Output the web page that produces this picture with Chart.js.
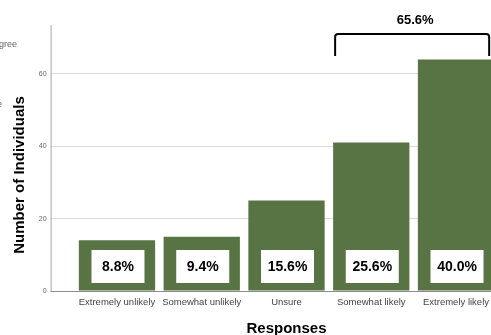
<!DOCTYPE html>
<html>
<head>
<meta charset="utf-8">
<script src="https://cdn.jsdelivr.net/npm/chart.js@4.4.1/dist/chart.umd.min.js"></script>
<style>
  html, body { margin: 0; padding: 0; background: #fff; overflow: hidden; width: 491px; height: 335px; }
  #chart { display: block; }
</style>
</head>
<body>
<canvas id="chart" width="500" height="345"></canvas>
<script>
// Donnees du graphique
const categories = ['Extremely unlikely', 'Somewhat unlikely', 'Unsure', 'Somewhat likely', 'Extremely likely'];
const counts = [14, 15, 25, 41, 64];
const percentLabels = ['8.8%', '9.4%', '15.6%', '25.6%', '40.0%'];
const bracketLabel = '65.6%';
const bracketBars = [3, 4];
const yTicks = [0, 20, 40, 60];

const BAR_COLOR = '#587444';
const FONT = "'Liberation Sans', Arial, sans-serif";

Chart.defaults.font.family = FONT;

// Axes, titre vertical et fragments de texte
const decorPlugin = {
    id: 'decor',
    beforeDatasetsDraw(chart) {
        const ctx = chart.ctx;
        const area = chart.chartArea;
        const axisX = area.left - 24;
        ctx.save();
        ctx.strokeStyle = '#a6a6a6';
        ctx.lineWidth = 1;
        ctx.beginPath();
        ctx.moveTo(axisX + 0.5, area.top);
        ctx.lineTo(axisX + 0.5, area.bottom);
        ctx.stroke();
        ctx.strokeStyle = '#8c8c8c';
        ctx.beginPath();
        ctx.moveTo(axisX, area.bottom + 0.5);
        ctx.lineTo(area.right, area.bottom + 0.5);
        ctx.stroke();

        // titre de l'axe Y
        ctx.translate(20, 175);
        ctx.rotate(-Math.PI / 2);
        ctx.fillStyle = '#000';
        ctx.font = 'bold 15px ' + FONT;
        ctx.textAlign = 'center';
        ctx.textBaseline = 'middle';
        ctx.fillText('Number of Individuals', 0, 0);
        ctx.restore();

        // restes d'un autre graphique a gauche
        ctx.save();
        ctx.fillStyle = '#666';
        ctx.font = '9px ' + FONT;
        ctx.textBaseline = 'middle';
        ctx.fillText('gree', -1, 45);
        ctx.fillText('e', -3, 105);
        ctx.restore();
    },
    afterDatasetsDraw(chart) {
        const ctx = chart.ctx;
        const area = chart.chartArea;
        const meta = chart.getDatasetMeta(0);
        ctx.save();

        // etiquettes de pourcentage dans les barres
        meta.data.forEach((bar, i) => {
            const w = 53, h = 33;
            const bottom = area.bottom - 8;
            ctx.fillStyle = '#fff';
            ctx.fillRect(bar.x - w / 2 + 1, bottom - h, w, h);
            ctx.fillStyle = '#000';
            ctx.font = 'bold 14px ' + FONT;
            ctx.textAlign = 'center';
            ctx.textBaseline = 'middle';
            ctx.fillText(percentLabels[i], bar.x + 1, bottom - h / 2 + 1);
        });

        // accolade au-dessus des deux dernieres barres
        const b1 = meta.data[bracketBars[0]];
        const b2 = meta.data[bracketBars[1]];
        const left = b1.x - b1.width / 2 + 2;
        const right = b2.x + b2.width / 2 - 5;
        const top = 34, legBottom = 56, r = 3;
        ctx.strokeStyle = '#000';
        ctx.lineWidth = 2;
        ctx.beginPath();
        ctx.moveTo(left, legBottom);
        ctx.lineTo(left, top + r);
        ctx.quadraticCurveTo(left, top, left + r, top);
        ctx.lineTo(right - r, top);
        ctx.quadraticCurveTo(right, top, right, top + r);
        ctx.lineTo(right, legBottom);
        ctx.stroke();
        ctx.fillStyle = '#000';
        ctx.font = 'bold 13px ' + FONT;
        ctx.textAlign = 'center';
        ctx.textBaseline = 'middle';
        ctx.fillText(bracketLabel, (left + right) / 2 + 3, 20);
        ctx.restore();
    }
};

const chart = new Chart(document.getElementById('chart'), {
    type: 'bar',
    data: {
        labels: categories,
        datasets: [{
            data: counts,
            backgroundColor: BAR_COLOR,
            borderWidth: 0,
            barPercentage: 0.9,
            categoryPercentage: 1.0
        }]
    },
    options: {
        responsive: false,
        animation: false,
        layout: { padding: { top: 25, right: 1.6, bottom: 0, left: 0 } },
        plugins: {
            legend: { display: false },
            tooltip: { enabled: false }
        },
        scales: {
            x: {
                grid: { display: false, drawTicks: false },
                border: { display: false },
                ticks: {
                    color: '#444',
                    font: { size: 9.5 },
                    padding: 6,
                    maxRotation: 0,
                    autoSkip: false
                },
                title: {
                    display: true,
                    text: 'Responses',
                    color: '#000',
                    font: { size: 15, weight: 'bold' },
                    padding: { top: 0, bottom: 7 }
                },
                afterFit(scale) { scale.height = 54; }
            },
            y: {
                min: 0,
                max: 73.5,
                grid: {
                    color: '#dadada',
                    drawTicks: true,
                    tickLength: 24
                },
                border: { display: false },
                ticks: {
                    stepSize: 20,
                    includeBounds: false,
                    color: '#666',
                    font: { size: 7 },
                    padding: 4,
                    callback: (v) => yTicks.includes(v) ? v : ''
                },
                afterFit(scale) { scale.width = 74.6; }
            }
        }
    },
    plugins: [decorPlugin]
});
</script>
</body>
</html>
